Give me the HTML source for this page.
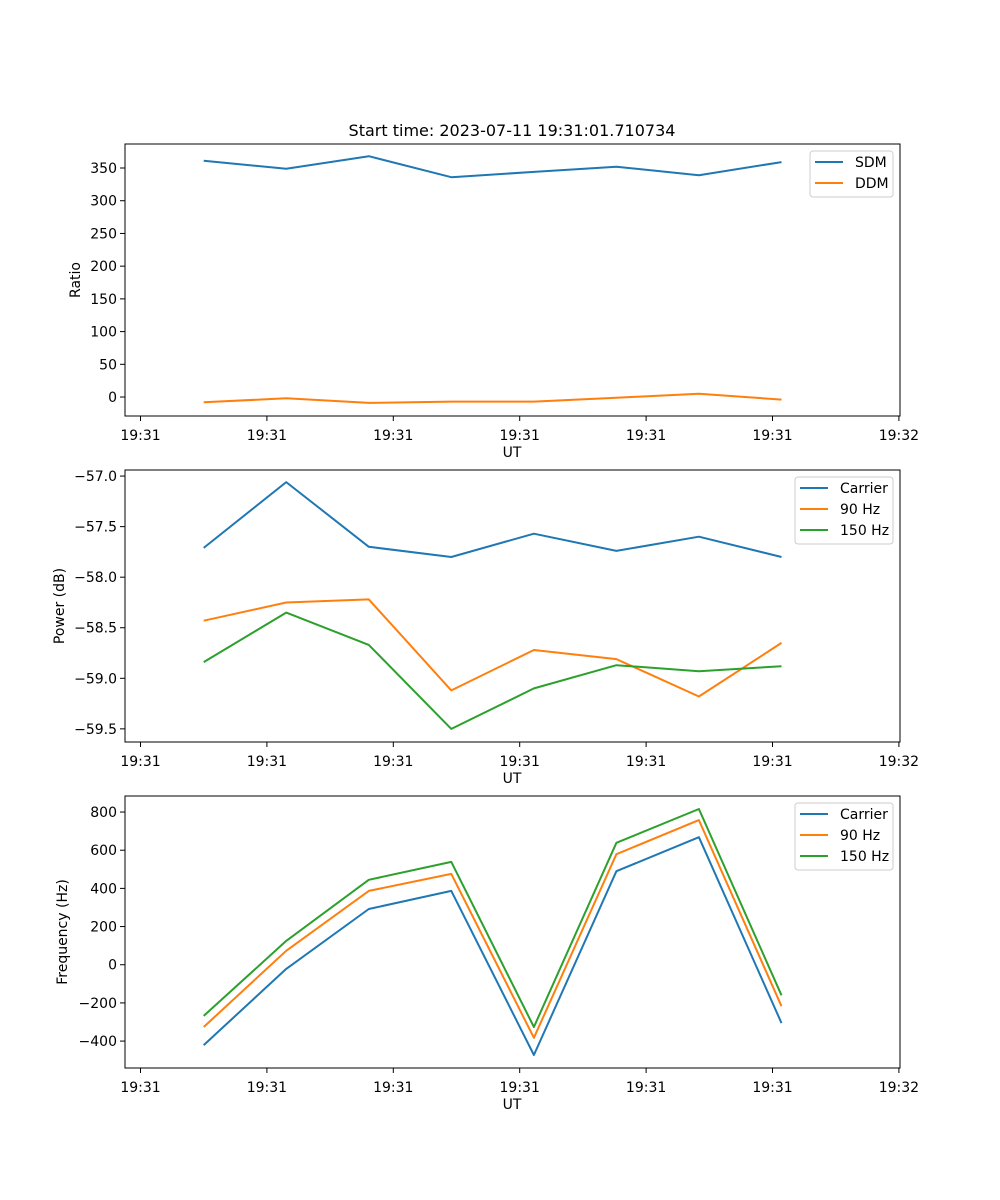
<!DOCTYPE html>
<html><head><meta charset="utf-8">
<style>
body{margin:0;background:#fff;}
svg{display:block;font-family:"DejaVu Sans","Liberation Sans",sans-serif;}
</style></head>
<body>
<svg id="fig" width="1000" height="1200" viewBox="0 0 1000 1200" xmlns="http://www.w3.org/2000/svg">
<rect width="1000" height="1200" fill="#fff"/>
<text x="512" y="136" font-size="16" text-anchor="middle">Start time: 2023-07-11 19:31:01.710734</text>
</svg>
<script>
// x positions in seconds offset from first tick
const timeSec = [0.5, 1.153, 1.806, 2.459, 3.112, 3.765, 4.418, 5.071];
const xTickVals = [0, 1, 2, 3, 4, 5, 6];
const xTickLabels = ["19:31","19:31","19:31","19:31","19:31","19:31","19:32"];
// panel 1
const sdm = [361, 349, 368, 336, 344, 352, 339, 359];
const ddm = [-8, -2, -9, -7, -7, -1, 5, -4];
const ratioTicks = [0, 50, 100, 150, 200, 250, 300, 350];
// panel 2
const powCarrier = [-57.71, -57.06, -57.70, -57.80, -57.57, -57.74, -57.60, -57.80];
const pow90 = [-58.43, -58.25, -58.22, -59.12, -58.72, -58.81, -59.18, -58.65];
const pow150 = [-58.84, -58.35, -58.67, -59.50, -59.10, -58.87, -58.93, -58.88];
const powTicks = [-57.0, -57.5, -58.0, -58.5, -59.0, -59.5];
// panel 3
const freqCarrier = [-421, -22, 292, 387, -473, 490, 668, -306];
const freq90 = [-326, 73, 387, 476, -383, 579, 758, -217];
const freq150 = [-268, 125, 445, 539, -326, 639, 816, -160];
const freqTicks = [-400, -200, 0, 200, 400, 600, 800];

const NS = "http://www.w3.org/2000/svg";
const svg = document.getElementById("fig");
const L = 125, R = 900;
function mk(tag, attrs, parent){
  const e = document.createElementNS(NS, tag);
  for (const k in attrs) e.setAttribute(k, attrs[k]);
  (parent||svg).appendChild(e); return e;
}
const xScale = v => 140.5 + v * 126.4;
const C = {blue:"#1f77b4", orange:"#ff7f0e", green:"#2ca02c"};

function panel(id, top, bottom, ymin, ymax, yticks, fmt, ylabel, series, legend){
  const g = mk("g", {});
  
  
  const yScale = v => bottom - (v - ymin) / (ymax - ymin) * (bottom - top);
  series.forEach(s => {
    const pts = s.vals.map((v,i)=> xScale(timeSec[i]).toFixed(1)+","+yScale(v).toFixed(1)).join(" ");
    const pl = mk("polyline", {points:pts, fill:"none", stroke:s.color, "stroke-width":2, "stroke-linejoin":"round"}, g);
    
    
  });
  const fr = mk("rect", {x:L, y:top, width:R-L, height:bottom-top, fill:"none", stroke:"#000", "stroke-width":1}, g);
  
  
  xTickVals.forEach((t,i)=>{
    const x = xScale(t);
    mk("line", {x1:x, x2:x, y1:bottom, y2:bottom+5, stroke:"#000"}, g);
    const tx = mk("text", {x:x, y:bottom+24, "font-size":14, "text-anchor":"middle"}, g);
    tx.textContent = xTickLabels[i];
    
    
  });
  const xl = mk("text", {x:512, y:bottom+41, "font-size":14, "text-anchor":"middle"}, g);
  xl.textContent = "UT";
  
  
  yticks.forEach(t=>{
    const y = yScale(t);
    mk("line", {x1:L-5, x2:L, y1:y, y2:y, stroke:"#000"}, g);
    const tx = mk("text", {x:L-8, y:y+5, "font-size":14, "text-anchor":"end"}, g);
    tx.textContent = fmt(t);
    
    
  });
  const yl = mk("text", {x:0, y:0, "font-size":14, "text-anchor":"middle", transform:`translate(${legend.ylx},${(top+bottom)/2}) rotate(-90)`}, g);
  yl.textContent = ylabel;
  
  
  const lg = mk("g", {}, g);
  
  
  const h = 4 + series.length * 21;
  mk("rect", {x:legend.x, y:top+7, width:893-legend.x, height:h, rx:3, fill:"#fff", "fill-opacity":0.8, stroke:"#ccc"}, lg);
  series.forEach((s,i)=>{
    const y = top + 18 + i*21;
    mk("line", {x1:legend.x+5, x2:legend.x+33, y1:y, y2:y, stroke:s.color, "stroke-width":2}, lg);
    const tx = mk("text", {x:legend.x+45, y:y+5, "font-size":14}, lg);
    tx.textContent = s.name;
    
    
  });
}
panel("ratio", 144, 416, -29, 386.7, ratioTicks, v=>String(v), "Ratio",
  [{key:"sdm",name:"SDM",vals:sdm,color:C.blue},{key:"ddm",name:"DDM",vals:ddm,color:C.orange}],
  {x:810, ylx:80});
panel("power", 470, 742, -59.63, -56.94, powTicks, v=>(v<0?"\u2212":"")+Math.abs(v).toFixed(1), "Power (dB)",
  [{key:"carrier",name:"Carrier",vals:powCarrier,color:C.blue},{key:"90hz",name:"90 Hz",vals:pow90,color:C.orange},{key:"150hz",name:"150 Hz",vals:pow150,color:C.green}],
  {x:795, ylx:64});
panel("frequency", 796, 1068, -541, 884, freqTicks, v=>(v<0?"\u2212":"")+Math.abs(v), "Frequency (Hz)",
  [{key:"carrier",name:"Carrier",vals:freqCarrier,color:C.blue},{key:"90hz",name:"90 Hz",vals:freq90,color:C.orange},{key:"150hz",name:"150 Hz",vals:freq150,color:C.green}],
  {x:795, ylx:67});
</script>
</body></html>
